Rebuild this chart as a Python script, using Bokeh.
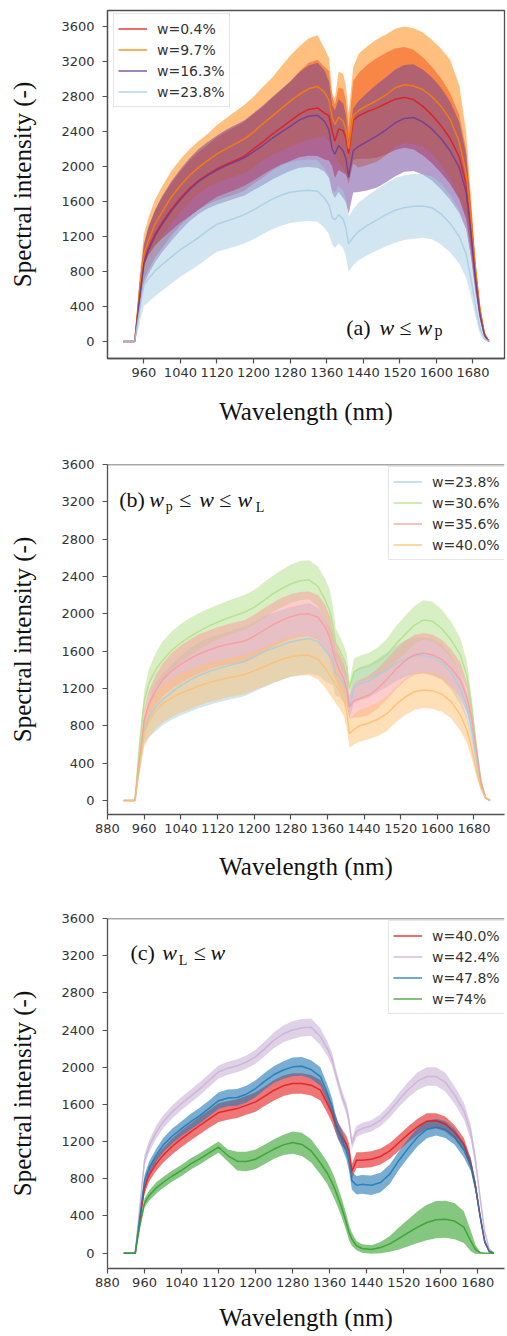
from bokeh.plotting import figure
from bokeh.models import Range1d, Label, Legend, LegendItem, Span, FixedTicker, ColumnDataSource
from bokeh.layouts import column
from bokeh.embed import file_html
from bokeh.resources import INLINE

# ---------------- data ----------------
wavelength = [915, 940, 950, 960, 970, 985, 1000, 1020, 1040, 1060,
              1080, 1100, 1120, 1140, 1160, 1180, 1200, 1220, 1240, 1260,
              1280, 1300, 1320, 1340, 1355, 1365, 1372, 1378, 1386, 1396,
              1402, 1408, 1418, 1430, 1450, 1470, 1490, 1510, 1530, 1550,
              1570, 1590, 1610, 1630, 1650, 1665, 1675, 1685, 1695, 1705,
              1715]

x_ticks_a = [960, 1040, 1120, 1200, 1280, 1360, 1440, 1520, 1600, 1680]
x_ticks_bc = [880, 960, 1040, 1120, 1200, 1280, 1360, 1440, 1520, 1600, 1680]
y_ticks = [0, 400, 800, 1200, 1600, 2000, 2400, 2800, 3200, 3600]

# panel (a)
a_labels = ["w=0.4%", "w=9.7%", "w=16.3%", "w=23.8%"]
w04_mean = [0, 0, 480, 900, 1060, 1230, 1360, 1510, 1640, 1750,
            1840, 1910, 1974, 2023, 2069, 2118, 2202, 2278, 2366, 2442,
            2518, 2595, 2652, 2670, 2610, 2580, 2400, 2290, 2430, 2410,
            2330, 2145, 2526, 2580, 2630, 2670, 2720, 2770, 2790, 2765,
            2690, 2590, 2470, 2320, 2110, 1800, 1340, 780, 350, 90,
            0]
w04_sd = [0, 0, 150, 200, 240, 270, 290, 300, 310, 320,
          330, 340, 360, 375, 385, 395, 400, 405, 415, 430,
          455, 490, 530, 550, 530, 510, 400, 420, 470, 480,
          420, 300, 450, 490, 540, 570, 580, 580, 575, 570,
          560, 550, 540, 520, 480, 400, 280, 160, 70, 20,
          0]
w97_mean = [0, 0, 550, 1000, 1154, 1345, 1478, 1650, 1783, 1897,
            1993, 2069, 2145, 2202, 2259, 2316, 2393, 2488, 2572, 2659,
            2747, 2823, 2888, 2915, 2850, 2760, 2560, 2480, 2564, 2520,
            2420, 2202, 2583, 2640, 2700, 2755, 2820, 2900, 2935, 2920,
            2880, 2800, 2690, 2540, 2280, 1920, 1450, 850, 380, 90,
            0]
w97_sd = [0, 0, 150, 220, 260, 285, 295, 300, 300, 300,
          300, 305, 330, 350, 370, 390, 405, 420, 440, 480,
          520, 550, 575, 585, 500, 480, 280, 300, 520, 540,
          500, 400, 550, 650, 680, 700, 690, 675, 665, 660,
          655, 650, 660, 680, 650, 480, 250, 120, 60, 20,
          0]
w163_mean = [0, 0, 470, 880, 1040, 1210, 1340, 1490, 1620, 1735,
             1830, 1900, 1960, 2010, 2055, 2100, 2170, 2240, 2320, 2390,
             2460, 2530, 2575, 2585, 2520, 2420, 2200, 2140, 2240, 2180,
             2090, 1878, 2183, 2230, 2290, 2350, 2420, 2500, 2550, 2560,
             2510, 2430, 2320, 2180, 1990, 1710, 1270, 735, 316, 69,
             0]
w163_sd = [0, 0, 160, 230, 270, 300, 320, 340, 350, 360,
           370, 380, 395, 410, 420, 430, 440, 455, 470, 490,
           510, 545, 580, 600, 580, 550, 500, 500, 530, 540,
           500, 420, 480, 520, 560, 590, 600, 610, 610, 610,
           600, 590, 580, 560, 520, 430, 300, 170, 80, 20,
           0]
w238_mean = [0, 0, 330, 640, 720, 810, 880, 965, 1050, 1120,
             1190, 1270, 1340, 1375, 1410, 1450, 1505, 1565, 1625, 1672,
             1705, 1720, 1730, 1718, 1640, 1560, 1420, 1390, 1450, 1400,
             1300, 1116, 1193, 1260, 1330, 1390, 1450, 1500, 1530, 1545,
             1550, 1530, 1460, 1350, 1200, 1000, 740, 430, 160, 30,
             0]
w238_sd = [0, 0, 150, 230, 270, 290, 300, 305, 310, 310,
           315, 315, 315, 320, 325, 330, 335, 340, 345, 350,
           350, 350, 350, 350, 340, 330, 310, 320, 330, 330,
           320, 315, 320, 330, 340, 350, 360, 370, 370, 370,
           365, 360, 350, 330, 310, 270, 210, 140, 70, 20,
           0]

# panel (b)
b_labels = ["w=23.8%", "w=30.6%", "w=35.6%", "w=40.0%"]
w238b_mean = [0, 0, 400, 751, 880, 1000, 1080, 1160, 1230, 1290,
              1340, 1380, 1413, 1440, 1465, 1490, 1540, 1590, 1628, 1665,
              1699, 1720, 1735, 1700, 1610, 1550, 1510, 1360, 1330, 1250,
              1180, 1000, 1216, 1250, 1280, 1340, 1400, 1470, 1520, 1550,
              1555, 1530, 1480, 1370, 1200, 1000, 750, 440, 170, 30,
              0]
w238b_sd = [0, 0, 80, 145, 200, 260, 275, 295, 320, 340,
            350, 360, 363, 365, 370, 370, 375, 380, 378, 375,
            374, 375, 380, 360, 330, 300, 280, 240, 220, 200,
            180, 120, 170, 180, 180, 180, 185, 190, 195, 195,
            195, 195, 190, 180, 170, 140, 110, 70, 30, 10,
            0]
w306_mean = [0, 0, 600, 1055, 1250, 1400, 1500, 1610, 1690, 1755,
             1815, 1865, 1910, 1950, 1985, 2020, 2070, 2140, 2210, 2270,
             2320, 2355, 2365, 2290, 2150, 2030, 1880, 1690, 1620, 1510,
             1430, 1200, 1380, 1410, 1440, 1490, 1560, 1680, 1780, 1880,
             1935, 1920, 1840, 1720, 1560, 1330, 1000, 580, 220, 30,
             0]
w306_sd = [0, 0, 60, 120, 150, 180, 200, 200, 200, 200,
           195, 190, 185, 185, 185, 185, 185, 190, 195, 200,
           205, 210, 210, 215, 225, 230, 200, 160, 150, 150,
           150, 70, 140, 140, 140, 150, 170, 190, 200, 205,
           210, 210, 205, 195, 180, 150, 100, 60, 30, 10,
           0]
w356_mean = [0, 0, 450, 860, 1030, 1180, 1290, 1390, 1460, 1520,
             1570, 1610, 1645, 1670, 1690, 1710, 1760, 1820, 1880, 1930,
             1970, 1995, 2000, 1960, 1860, 1750, 1600, 1500, 1400, 1300,
             1200, 1000, 1070, 1090, 1127, 1200, 1300, 1410, 1500, 1560,
             1580, 1560, 1510, 1420, 1290, 1100, 880, 540, 200, 30,
             0]
w356_sd = [0, 0, 60, 110, 140, 160, 175, 190, 200, 205,
           210, 210, 210, 215, 220, 225, 230, 235, 235, 240,
           240, 240, 240, 240, 240, 230, 220, 200, 190, 180,
           170, 130, 180, 200, 210, 215, 215, 215, 215, 215,
           215, 215, 210, 200, 190, 160, 120, 70, 30, 10,
           0]
w400b_mean = [0, 0, 380, 715, 840, 960, 1037, 1100, 1150, 1190,
              1230, 1260, 1288, 1310, 1330, 1350, 1390, 1430, 1470, 1510,
              1540, 1555, 1556, 1510, 1420, 1340, 1290, 1240, 1180, 1080,
              960, 715, 760, 800, 830, 870, 930, 1030, 1110, 1165,
              1185, 1175, 1140, 1060, 920, 750, 560, 330, 140, 30,
              0]
w400b_sd = [0, 0, 80, 140, 170, 190, 200, 205, 210, 210,
            210, 210, 210, 210, 210, 210, 210, 210, 210, 215,
            215, 215, 215, 215, 210, 205, 200, 200, 190, 180,
            170, 150, 160, 170, 175, 180, 185, 190, 195, 195,
            195, 195, 190, 180, 170, 140, 110, 70, 30, 10,
            0]

# panel (c)
c_labels = ["w=40.0%", "w=42.4%", "w=47.8%", "w=74%"]
w400c_mean = [0, 0, 360, 700, 840, 960, 1052, 1150, 1232, 1305,
              1376, 1445, 1512, 1535, 1555, 1590, 1627, 1690, 1753, 1800,
              1825, 1825, 1807, 1753, 1609, 1501, 1400, 1322, 1250, 1178,
              1100, 880, 1000, 1000, 1010, 1040, 1100, 1190, 1280, 1360,
              1420, 1425, 1390, 1300, 1170, 960, 720, 400, 120, 15,
              0]
w400c_sd = [0, 0, 40, 60, 70, 75, 80, 85, 90, 90,
            95, 95, 100, 100, 100, 100, 105, 105, 110, 110,
            110, 110, 110, 110, 100, 95, 90, 90, 90, 85,
            80, 80, 85, 85, 85, 85, 85, 85, 85, 85,
            85, 80, 80, 75, 70, 60, 50, 30, 15, 5,
            0]
w424_mean = [0, 0, 500, 1000, 1150, 1300, 1410, 1520, 1610, 1690,
             1770, 1860, 1950, 1990, 2015, 2055, 2112, 2200, 2292, 2360,
             2400, 2425, 2430, 2330, 2200, 2090, 1950, 1840, 1700, 1560,
             1420, 1180, 1310, 1340, 1370, 1430, 1530, 1650, 1760, 1850,
             1900, 1900, 1840, 1700, 1530, 1300, 1000, 600, 230, 40,
             0]
w424_sd = [0, 0, 40, 60, 65, 70, 70, 70, 70, 70,
           70, 70, 70, 70, 70, 70, 75, 80, 85, 90,
           95, 95, 95, 90, 80, 70, 60, 60, 60, 60,
           60, 60, 60, 60, 60, 65, 70, 75, 85, 95,
           100, 100, 100, 95, 90, 80, 60, 40, 20, 10,
           0]
w478_mean = [0, 0, 400, 780, 920, 1050, 1160, 1260, 1340, 1415,
             1483, 1560, 1640, 1670, 1675, 1710, 1771, 1850, 1922, 1970,
             2004, 2010, 1975, 1900, 1720, 1580, 1420, 1320, 1230, 1100,
             980, 780, 730, 740, 730, 760, 850, 1000, 1130, 1250,
             1330, 1355, 1330, 1250, 1110, 950, 720, 400, 130, 20,
             0]
w478_sd = [0, 0, 40, 60, 65, 70, 75, 80, 80, 85,
           85, 85, 90, 90, 90, 90, 90, 90, 90, 95,
           100, 100, 100, 100, 95, 90, 90, 90, 90, 90,
           95, 95, 100, 100, 105, 105, 105, 100, 100, 100,
           95, 90, 90, 85, 80, 70, 60, 40, 20, 10,
           0]
w74_mean = [0, 0, 300, 540, 620, 700, 760, 830, 891, 960,
            1017, 1080, 1140, 1050, 990, 985, 1010, 1065, 1120, 1165,
            1190, 1170, 1100, 970, 860, 760, 680, 600, 490, 330,
            220, 150, 80, 50, 40, 60, 100, 160, 220, 280,
            330, 360, 365, 345, 280, 130, 40, 5, 0, 0,
            0]
w74_sd = [0, 0, 30, 50, 55, 60, 60, 60, 60, 60,
          60, 60, 60, 65, 100, 105, 105, 105, 105, 110,
          120, 125, 125, 120, 120, 120, 115, 110, 100, 90,
          80, 70, 50, 45, 45, 60, 85, 120, 145, 170,
          190, 200, 200, 195, 170, 110, 50, 10, 0, 0,
          0]

# ---------------- styling ----------------
SPINE = "#505050"
TICK_TXT = "#333333"
SERIF = "Liberation Serif"
SANS = "DejaVu Sans"


def make_fig(height, left, right, top, bottom, xr, yr, xticks, xl_standoff):
    p = figure(width=507, height=height, x_range=Range1d(*xr), y_range=Range1d(*yr),
               output_backend="svg", toolbar_location=None,
               min_border_left=left, min_border_right=right,
               min_border_top=top, min_border_bottom=bottom)
    p.title.visible = False
    p.xgrid.visible = False
    p.ygrid.visible = False
    p.background_fill_color = "white"
    p.border_fill_color = "white"
    p.xaxis.ticker = FixedTicker(ticks=xticks)
    p.yaxis.ticker = FixedTicker(ticks=y_ticks)
    for ax in (p.xaxis[0], p.yaxis[0]):
        ax.axis_line_color = SPINE
        ax.axis_line_width = 1.3
        ax.major_tick_line_color = SPINE
        ax.major_tick_line_width = 1.2
        ax.major_tick_out = 5
        ax.major_tick_in = 0
        ax.minor_tick_line_color = None
        ax.major_label_text_font = SANS
        ax.major_label_text_font_size = "13px"
        ax.major_label_text_color = TICK_TXT
        ax.axis_label_text_font = SERIF
        ax.axis_label_text_font_style = "normal"
        ax.axis_label_text_font_size = "25px"
        ax.axis_label_text_color = "#111111"
    p.xaxis.major_label_standoff = 4
    p.yaxis.major_label_standoff = 8
    p.xaxis.axis_label = "Wavelength (nm)"
    p.xaxis.axis_label_standoff = xl_standoff
    p.yaxis.axis_label = "Spectral intensity (-)"
    p.yaxis.axis_label_standoff = 22
    return p


def add_series(p, series, fill_alpha, line_alpha):
    rends = []
    srcs = []
    for mean, sd, color in series:
        lo = [m - s for m, s in zip(mean, sd)]
        hi = [m + s for m, s in zip(mean, sd)]
        src = ColumnDataSource(dict(x=wavelength, mean=mean, lo=lo, hi=hi))
        p.varea(x="x", y1="lo", y2="hi", source=src, fill_color=color, fill_alpha=fill_alpha)
        srcs.append((src, color))
    for src, color in srcs:
        rends.append(p.line("x", "mean", source=src, line_color=color,
                            line_width=1.5, line_alpha=line_alpha))
    return rends


def add_legend(p, labels, renderers, loc):
    items = [LegendItem(label=l, renderers=[r]) for l, r in zip(labels, renderers)]
    lg = Legend(items=items, location=loc)
    lg.label_text_font = SANS
    lg.label_text_font_size = "14px"
    lg.label_text_color = "#333333"
    lg.glyph_width = 29
    lg.glyph_height = 21
    lg.label_height = 21
    lg.label_standoff = 10
    lg.spacing = 0
    lg.padding = 4
    lg.margin = 0
    lg.border_line_color = "#cccccc"
    lg.border_line_width = 1
    lg.background_fill_alpha = 0.85
    p.add_layout(lg)


def add_pieces(p, pieces, fl, fb):
    for txt, cx, cy, size, italic in pieces:
        p.add_layout(Label(x=cx - fl, y=fb - cy, x_units="screen", y_units="screen",
                           text=txt, text_align="left", text_baseline="alphabetic",
                           text_font=SERIF, text_font_size=f"{size}px",
                           text_font_style="italic" if italic else "normal",
                           text_color="#111111"))


# ---------------- panel (a) ----------------
fa = make_fig(447, 103, 3, 10, 89, (880.5, 1749), (-194, 3783), x_ticks_a, 18)
fa.outline_line_color = SPINE
fa.outline_line_width = 1.3
fa.outline_line_alpha = 1.0
ra = add_series(fa, [(w04_mean, w04_sd, "#e31a1c"),
                     (w97_mean, w97_sd, "#ff7f00"),
                     (w163_mean, w163_sd, "#6a3d9a"),
                     (w238_mean, w238_sd, "#a6cee3")], 0.5, 0.85)
add_legend(fa, a_labels, ra, (6, 251))
add_pieces(fa, [("(a)", 341.7, 327, 22, False), ("w", 375, 327, 22, True),
                ("≤", 395, 327, 22, False), ("w", 413, 327, 22, True),
                ("p", 430, 330, 16, False)], 103, 358)

# ---------------- panel (b) ----------------
fb = make_fig(446, 105, 0, 17, 79, (880, 1746.6), (-150, 3600), x_ticks_bc, 17)
fb.outline_line_color = None
fb.add_layout(Span(location=3600, dimension="width", line_color=SPINE, line_width=1.3))
rb = add_series(fb, [(w238b_mean, w238b_sd, "#a6cee3"),
                     (w306_mean, w306_sd, "#b2df8a"),
                     (w356_mean, w356_sd, "#fb9a99"),
                     (w400b_mean, w400b_sd, "#fdbf6f")], 0.5, 0.85)
add_legend(fb, b_labels, rb, (281, 254))
add_pieces(fb, [("(b)", 116.7, 498.5, 22, False), ("w", 146.7, 498.5, 22, True),
                ("p", 163.3, 506, 14, False), ("≤", 176.7, 498.5, 22, False),
                ("w", 196.7, 498.5, 22, True), ("≤", 216.7, 498.5, 22, False),
                ("w", 235, 498.5, 22, True), ("L", 253.3, 506.5, 14, False)], 105, 814)

# ---------------- panel (c) ----------------
fc = make_fig(443, 107, 0, 25, 68, (880, 1737.8), (-165, 3600), x_ticks_bc, 14)
fc.outline_line_color = None
fc.add_layout(Span(location=3600, dimension="width", line_color=SPINE, line_width=1.3))
rc = add_series(fc, [(w400c_mean, w400c_sd, "#e31a1c"),
                     (w424_mean, w424_sd, "#cab2d6"),
                     (w478_mean, w478_sd, "#1f78b4"),
                     (w74_mean, w74_sd, "#33a02c")], 0.6, 0.85)
add_legend(fc, c_labels, rc, (281, 254))
add_pieces(fc, [("(c)", 130, 952, 22, False), ("w", 161.7, 952, 22, True),
                ("L", 178.3, 960, 14, False), ("≤", 193.3, 952, 22, False),
                ("w", 210, 952, 22, True)], 107, 1268)

layout = column(fa, fb, fc, spacing=0)
open("out.html", "w").write(file_html(layout, INLINE))
